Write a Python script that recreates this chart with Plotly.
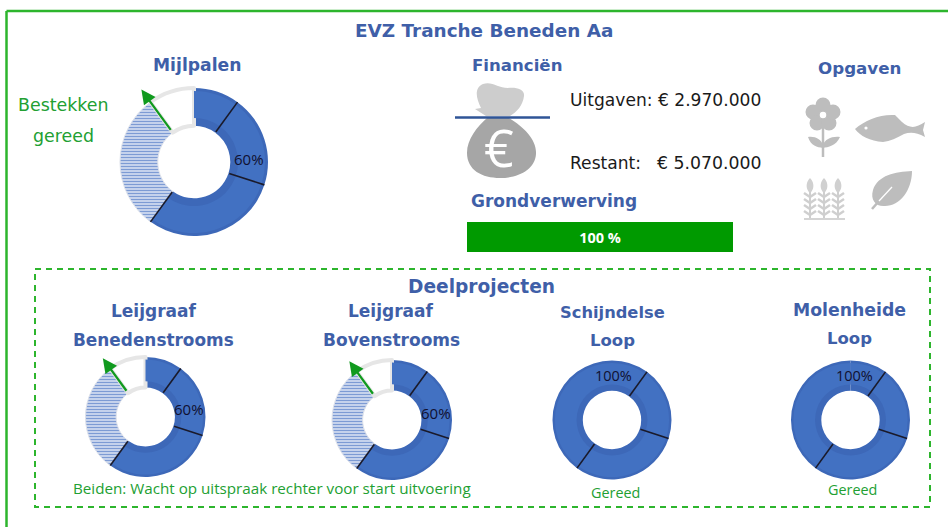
import math
import plotly.graph_objects as go

W, H = 948, 527

# ---- data ----
progress_segments = [10, 20, 30, 30, 10]   # done, done, done, hatched (bestekken gereed), open
complete_segments = [10, 20, 30, 40]
grondverwerving = [100]
grond_label = ["100 %"]

BLUE = "#4271C2"
BLUE_DARK = "#3D68B8"
HEAD = "#3F5FA8"
GREEN = "#2DB52D"
TEXTGREEN = "#22A032"
ICON = "#BDBDBD"
FONT = "Open Sans"
WIDE = "DejaVu Sans"

fig = go.Figure()
shapes, annos = [], []


def text(x, y, s, size=15, color=HEAD, bold=True, anchor="center", font=FONT):
    annos.append(dict(x=x, y=y, xref="x", yref="y", text=f"<b>{s}</b>" if bold else s, showarrow=False,
                      xanchor=anchor, yanchor="middle", font=dict(size=size, color=color, family=font)))


def line(x0, y0, x1, y1, color, width, dash=None):
    shapes.append(dict(type="line", xref="x", yref="y", x0=x0, y0=y0, x1=x1, y1=y1,
                       line=dict(color=color, width=width, dash=dash or "solid")))


def circle(cx, cy, r, fill, ln=None, lw=0):
    shapes.append(dict(type="circle", xref="x", yref="y", x0=cx - r, x1=cx + r, y0=cy - r, y1=cy + r,
                       fillcolor=fill, line=dict(color=ln or fill, width=lw)))


def path(d, fill=ICON):
    shapes.append(dict(type="path", xref="x", yref="y", path=d, fillcolor=fill, line=dict(width=0)))


def dom(cx, cy, r):
    return dict(x=[(cx - r) / W, (cx + r) / W], y=[1 - (cy + r) / H, 1 - (cy - r) / H])


def donut(cx, cy, r, values, partial):
    n = len(values)
    if partial:
        colors = [BLUE_DARK] * 3 + ["rgba(0,0,0,0)", "white"]
        patterns = ["", "", "", "-", ""]
        linec = ["rgba(0,0,0,0)"] * 3 + ["#DDE1EA", "#E6E6E6"]
        linew = [0, 0, 0, 1, 4]
        front = [BLUE] * 3 + ["rgba(0,0,0,0)"] * 2
    else:
        colors = [BLUE_DARK] * n
        patterns = [""] * n
        linec = ["rgba(0,0,0,0)"] * n
        linew = [0] * n
        front = [BLUE] * n
    fig.add_trace(go.Pie(values=values, sort=False, direction="clockwise", rotation=0, hole=0.49,
                         domain=dom(cx, cy, r), textinfo="none", hoverinfo="skip", showlegend=False,
                         marker=dict(colors=colors, line=dict(color=linec, width=linew),
                                     pattern=dict(shape=patterns, fgcolor="#7D9BD4", bgcolor="#DDE5F4",
                                                  size=3, solidity=0.5))))
    fig.add_trace(go.Pie(values=values, sort=False, direction="clockwise", rotation=0, hole=0.62,
                         domain=dom(cx, cy, r * 0.96), textinfo="none", hoverinfo="skip", showlegend=False,
                         marker=dict(colors=front, line=dict(width=0))))
    # black separators on the first three cumulative boundaries
    total, cum = sum(values), 0
    for v in values[:3]:
        cum += v
        a = 2 * math.pi * cum / total
        sx, cy_ = math.sin(a), -math.cos(a)
        line(cx + sx * r * 0.5, cy + cy_ * r * 0.5, cx + sx * r, cy + cy_ * r, "#1A1A2A", 1.6)
    if partial:
        a = 2 * math.pi * sum(values[:4]) / total
        sx, cy_ = math.sin(a), -math.cos(a)
        annos.append(dict(x=cx + sx * r * 1.21, y=cy + cy_ * r * 1.21,
                          ax=cx + sx * r * 0.51, ay=cy + cy_ * r * 0.51,
                          xref="x", yref="y", axref="x", ayref="y", text="", showarrow=True,
                          arrowhead=2, arrowsize=1.3, arrowwidth=2.2, arrowcolor="#109A1E"))


donut(194, 162, 74, progress_segments, True)
donut(145.5, 417, 60, progress_segments, True)
donut(392, 420, 60, progress_segments, True)
donut(612, 420, 59.5, complete_segments, False)
donut(850.5, 420, 59.5, complete_segments, False)

# ---- progress bar ----
fig.add_trace(go.Bar(x=grondverwerving, y=[""], orientation="h", xaxis="x2", yaxis="y2", width=1,
                     marker=dict(color="#009A00", line=dict(width=0)), text=grond_label, textposition="inside",
                     insidetextanchor="middle", textangle=0,
                     textfont=dict(color="white", size=14.5, family=FONT, weight="bold"),
                     hoverinfo="skip", showlegend=False))

# ---- frames ----
line(6.5, 11, 6.5, H, GREEN, 2.5)
line(6.5, 11, W, 11, GREEN, 2.5)
shapes.append(dict(type="rect", xref="x", yref="y", x0=35, x1=930, y0=269, y1=507,
                   line=dict(color=GREEN, width=2, dash="6px,5px")))

# ---- money bag ----
path("M481 108 C476 98 474 88 483 84 C492 81 498 88 508 88 C516 87 525 89 524 96 C523 105 517 112 510 116 "
     "L486 116 L475 109 Z", "#CDCDCD")
path("M487 118 L509 118 C524 127 537 140 536 154 C535 170 518 178 500 178 C482 178 467 170 467 153 "
     "C467 139 477 127 487 118 Z", "#A6A6A6")
line(455, 117.5, 550, 117.5, "#2F5597", 2.6)
text(499, 146, "€", 52, "white", False)

# ---- flower ----
for dx, dy in [(0, -10), (-10, -3), (-6, 8), (6, 8), (10, -3)]:
    circle(823 + dx, 115 + dy, 7.5, ICON)
circle(823, 115, 4, "white", ICON, 1.5)
line(823, 125, 823, 157, ICON, 2.5)
path("M808 137 C815 136 821 139 823 145 C825 139 832 136 840 137 C836 146 828 147 823 148 C817 147 811 146 808 137 Z")

# ---- fish ----
path("M855 129 C865 120 880 114 895 115 L902 122 C910 129 916 128 925 122 L923 130 L925 137 "
     "C916 132 910 132 904 134 C897 138 890 141 883 142 C870 141 860 136 855 129 Z")
circle(866, 128, 1.6, "white")

# ---- wheat ----
for sx in (810, 824, 838):
    line(sx, 186, sx, 218, "#CFCFCF", 2)
    path(f"M{sx} 178 C{sx + 5} 183 {sx + 4} 190 {sx} 193 C{sx - 4} 190 {sx - 5} 183 {sx} 178 Z", "#D0D0D0")
    for ly in (197, 203, 209, 215):
        line(sx - 6, ly - 4, sx, ly, "#CFCFCF", 2.5)
        line(sx + 6, ly - 4, sx, ly, "#CFCFCF", 2.5)
line(804, 219, 845, 219, "#D4D4D4", 2)

# ---- leaf ----
path("M912 171 C895 172 878 175 873 190 C870 200 876 207 885 206 C900 206 912 190 912 171 Z")
line(872, 209, 879, 201, ICON, 2.5)
line(879, 201, 892, 187, "white", 1.3)

# ---- text ----
text(484, 30, "EVZ Tranche Beneden Aa", 18.4, font=WIDE)
text(197, 65, "Mijlpalen", 17.2, font=WIDE)
text(517, 65, "Financiën", 16.6, font=WIDE)
text(859, 68, "Opgaven", 16.7, font=WIDE)
text(63, 105, "Bestekken", 17.4, TEXTGREEN, False, font=WIDE)
text(63, 136, "gereed", 17.4, TEXTGREEN, False, font=WIDE)
text(568, 100, "Uitgaven: € 2.970.000", 17.1, "#1A1A1A", False, "left", font=WIDE)
text(568, 163, "Restant:", 17.1, "#1A1A1A", False, "left", font=WIDE)
text(655, 163, "€ 5.070.000", 17.3, "#1A1A1A", False, "left", font=WIDE)
text(554, 201, "Grondverwerving", 17, font=WIDE)
text(481, 286, "Deelprojecten", 18.6, font=WIDE)
text(154, 311, "Leijgraaf", 17, font=WIDE)
text(153, 340, "Benedenstrooms", 16.9, font=WIDE)
text(391, 311, "Leijgraaf", 17, font=WIDE)
text(391, 340, "Bovenstrooms", 17, font=WIDE)
text(612, 312, "Schijndelse", 16.3, font=WIDE)
text(612, 340, "Loop", 16.5, font=WIDE)
text(849, 310, "Molenheide", 17.3, font=WIDE)
text(849, 338, "Loop", 16.5, font=WIDE)
text(272, 488, "Beiden: Wacht op uitspraak rechter voor start uitvoering", 15.2, TEXTGREEN, False)
text(615, 492, "Gereed", 14.4, TEXTGREEN, False)
text(852, 489, "Gereed", 14.4, TEXTGREEN, False)
text(249, 159, "60%", 15, "#101030", False)
text(189, 409, "60%", 15, "#101030", False)
text(436, 413, "60%", 15, "#101030", False)
text(613, 375, "100%", 14.5, "#101030", False)
text(854, 375, "100%", 14.5, "#101030", False)

fig.update_layout(
    width=W, height=H, margin=dict(l=0, r=0, t=0, b=0), paper_bgcolor="white", plot_bgcolor="rgba(0,0,0,0)",
    xaxis=dict(range=[0, W], visible=False, domain=[0, 1], fixedrange=True),
    yaxis=dict(range=[H, 0], visible=False, domain=[0, 1], fixedrange=True),
    xaxis2=dict(range=[0, 100], visible=False, domain=[467 / W, 733 / W], anchor="y2", fixedrange=True),
    yaxis2=dict(visible=False, domain=[1 - 252 / H, 1 - 222 / H], anchor="x2", fixedrange=True),
    shapes=shapes, annotations=annos, bargap=0,
)
fig.write_html("out.html", config={"displayModeBar": False},
               post_script="document.body.style.margin='0';document.body.style.overflow='hidden';")
